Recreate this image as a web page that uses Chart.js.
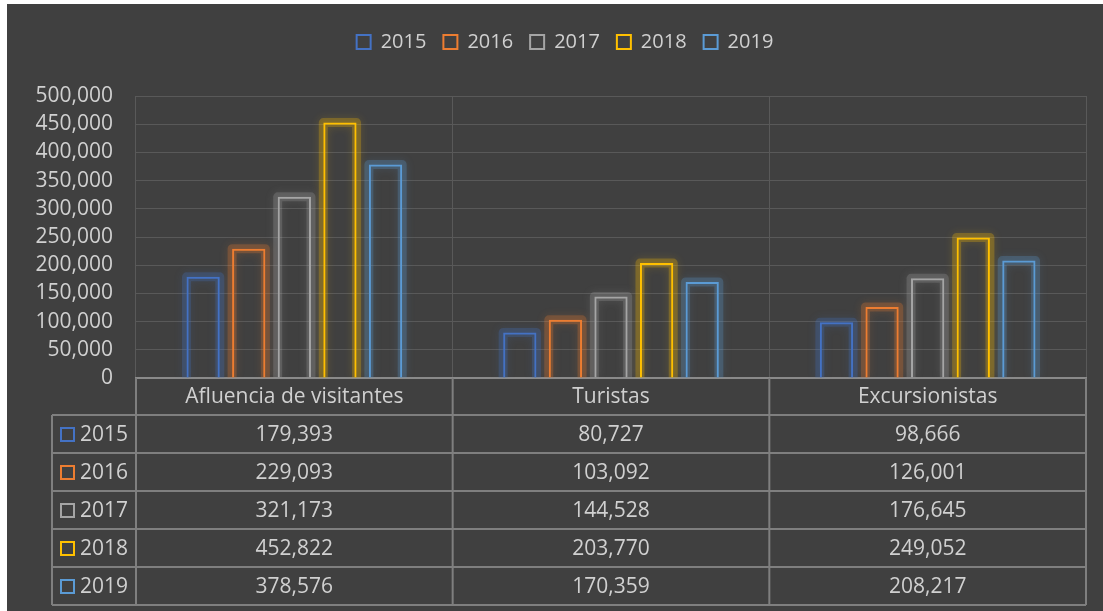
<!DOCTYPE html>
<html>
<head>
<meta charset="utf-8">
<script src="https://cdn.jsdelivr.net/npm/chart.js@4/dist/chart.umd.min.js"></script>
<style>
  html, body { margin:0; padding:0; background:#fff; }
  #wrap { position:absolute; left:7px; top:4px; width:1096px; height:607px; background:#404040; }
</style>
</head>
<body>
<div id="wrap"><canvas id="chart" width="1096" height="607"></canvas></div>
<script>
var categories = ['Afluencia de visitantes', 'Turistas', 'Excursionistas'];
var years = ['2015', '2016', '2017', '2018', '2019'];
var v2015 = [179393, 80727, 98666];
var v2016 = [229093, 103092, 126001];
var v2017 = [321173, 144528, 176645];
var v2018 = [452822, 203770, 249052];
var v2019 = [378576, 170359, 208217];
var colors = ['#4472C4', '#ED7D31', '#A5A5A5', '#FFC000', '#5B9BD5'];

var values = [v2015, v2016, v2017, v2018, v2019];
var textColor = '#d0d0d0';
var fontFam = '"Open Sans", sans-serif';

function fmt(n){ return n.toLocaleString('en-US'); }
function rgba(hex, a){
    var r = parseInt(hex.substr(1,2),16), g = parseInt(hex.substr(3,2),16), b = parseInt(hex.substr(5,2),16);
    return 'rgba(' + r + ',' + g + ',' + b + ',' + a + ')';
}

// legend gets extra room below it, y labels may use the left margin
var tweaks = {
    id: 'tweaks',
    afterInit: function(chart){
        var lg = chart.legend, fit = lg.fit;
        lg.fit = function(){ fit.call(this); this.height += 34; };
    },
    afterLayout: function(chart){ chart.scales.y.left = 0; }
};

// soft glow round the hollow bars, traced on the bar elements
var glow = {
    id: 'glow',
    beforeDatasetDraw: function(chart, args){
        var c = chart.ctx, area = chart.chartArea;
        var col = colors[args.index];
        c.save();
        c.beginPath();
        c.rect(area.left, area.top - 20, area.right - area.left, area.bottom - area.top + 20);
        c.clip();
        args.meta.data.forEach(function(bar){
            var p = bar.getProps(['x', 'y', 'base', 'width'], true);
            var l = p.x - p.width / 2, r = p.x + p.width / 2;
            c.beginPath();
            c.moveTo(l, p.base); c.lineTo(l, p.y); c.lineTo(r, p.y); c.lineTo(r, p.base);
            c.lineJoin = 'round';
            c.strokeStyle = rgba(col, 0.25);
            c.shadowColor = rgba(col, 0.6);
            c.shadowBlur = 9;
            c.lineWidth = 9;
            c.stroke();
        });
        c.restore();
    }
};

// data table under the plot, columns taken from the x scale
var dataTable = {
    id: 'dataTable',
    afterDraw: function(chart){
        var c = chart.ctx, area = chart.chartArea, xs = chart.scales.x;
        var half = (area.right - area.left) / categories.length / 2;
        var top = area.bottom, headH = 37, rowH = 38;
        var keyLeft = 45;
        var bottom = top + headH + rowH * years.length;
        c.save();
        c.strokeStyle = '#7f7f7f';
        c.lineWidth = 2;
        c.beginPath();
        c.moveTo(area.left, top); c.lineTo(area.left, bottom);
        for (var i = 0; i < categories.length; i++) {
            var xr = xs.getPixelForValue(i) + half;
            c.moveTo(xr, top); c.lineTo(xr, bottom);
        }
        c.moveTo(keyLeft, top + headH); c.lineTo(keyLeft, bottom);
        for (var r = 0; r <= years.length; r++) {
            var y = top + headH + r * rowH;
            c.moveTo(keyLeft, y); c.lineTo(area.right, y);
        }
        c.stroke();

        c.font = '21px ' + fontFam;
        c.fillStyle = textColor;
        c.textAlign = 'center';
        c.textBaseline = 'middle';
        categories.forEach(function(cat, i){
            c.fillText(cat, xs.getPixelForValue(i), top + headH / 2 + 1);
        });
        years.forEach(function(yr, r){
            var cy = top + headH + r * rowH + rowH / 2 + 1;
            c.strokeStyle = colors[r];
            c.lineWidth = 2;
            c.strokeRect(keyLeft + 9, cy - 7, 13, 13);
            c.textAlign = 'left';
            c.fillStyle = textColor;
            c.fillText(yr, keyLeft + 28, cy);
            c.textAlign = 'center';
            values[r].forEach(function(v, i){
                c.fillText(fmt(v), xs.getPixelForValue(i), cy);
            });
        });
        c.restore();
    }
};

var datasets = years.map(function(yr, i){
    return {
        label: yr,
        data: values[i],
        backgroundColor: 'rgba(0,0,0,0)',
        borderColor: colors[i],
        borderWidth: 2
    };
});

new Chart(document.getElementById('chart'), {
    type: 'bar',
    data: { labels: categories, datasets: datasets },
    options: {
        responsive: false,
        animation: false,
        datasets: { bar: { categoryPercentage: 0.72, barPercentage: 0.73 } },
        layout: { padding: { top: 11, left: 37, right: 17, bottom: 0 } },
        plugins: {
            tooltip: { enabled: false },
            legend: {
                position: 'top',
                labels: {
                    color: textColor,
                    boxWidth: 14,
                    boxHeight: 14,
                    padding: 17,
                    font: { family: fontFam, size: 20 }
                }
            }
        },
        scales: {
            x: {
                ticks: { display: false },
                grid: { offset: true, color: '#595959', lineWidth: 1, drawTicks: false },
                border: { color: '#8a8a8a', width: 2 },
                afterFit: function(s){ s.height = 233; }
            },
            y: {
                min: 0,
                max: 500000,
                ticks: {
                    stepSize: 50000,
                    color: textColor,
                    padding: 23,
                    font: { family: fontFam, size: 21 },
                    callback: function(v){ return fmt(v); }
                },
                grid: { color: '#595959', lineWidth: 1, drawTicks: false },
                border: { display: false },
                afterFit: function(s){ s.width = 92; }
            }
        }
    },
    plugins: [tweaks, glow, dataTable]
});
</script>
</body>
</html>
